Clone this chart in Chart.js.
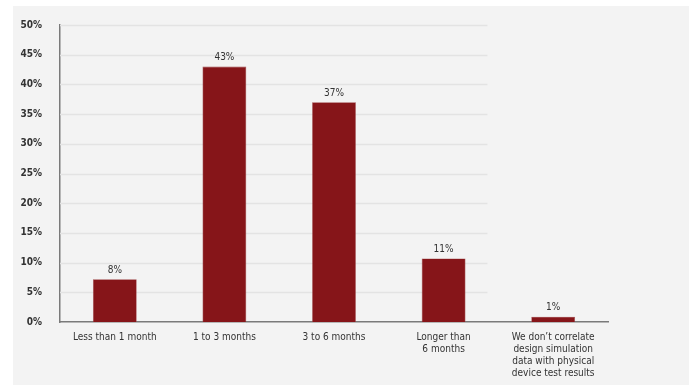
<!DOCTYPE html>
<html>
<head>
<meta charset="utf-8">
<script src="https://cdn.jsdelivr.net/npm/chart.js@4"></script>
<style>
  html, body { margin: 0; padding: 0; background: #fff; }
  #panel { position: absolute; left: 13px; top: 6px; width: 676px; height: 379px; background: #f3f3f3; }
  #myChart { display: block; }
</style>
</head>
<body>
<div id="panel"><canvas id="myChart" width="676" height="379"></canvas></div>
<script>
// categories (multi-line labels)
var categories = [
    ['Less than 1 month'],
    ['1 to 3 months'],
    ['3 to 6 months'],
    ['Longer than', '6 months'],
    ['We don\u2019t correlate', 'design simulation', 'data with physical', 'device test results']
];
// bar heights as drawn
var values = [7.2, 43, 37, 10.7, 0.9];
// printed labels over bars
var valueLabels = ['8%', '43%', '37%', '11%', '1%'];
// y ticks
var yTicks = [0, 5, 10, 15, 20, 25, 30, 35, 40, 45, 50];

var fontFamily = '"DejaVu Sans Condensed", "Liberation Sans Narrow", "Liberation Sans", Arial, sans-serif';
var textColor = '#333333';

// short gridlines like the original
var gridPlugin = {
    id: 'shortGrid',
    beforeDatasetsDraw: function(chart) {
        var ctx = chart.ctx, y = chart.scales.y, x = chart.scales.x;
        var end = x.getPixelForValue(3.4);
        ctx.save();
        ctx.strokeStyle = '#e3e3e3';
        ctx.lineWidth = 1.5;
        yTicks.forEach(function(t) {
            if (t === 0) return;
            var py = Math.round(y.getPixelForValue(t)) + 0.5;
            ctx.beginPath();
            ctx.moveTo(chart.chartArea.left, py);
            ctx.lineTo(end, py);
            ctx.stroke();
        });
        ctx.restore();
    }
};

// value labels above bars
var labelPlugin = {
    id: 'valueLabels',
    afterDatasetsDraw: function(chart) {
        var ctx = chart.ctx;
        var meta = chart.getDatasetMeta(0);
        ctx.save();
        ctx.font = '10px ' + fontFamily;
        ctx.fillStyle = textColor;
        ctx.textAlign = 'center';
        ctx.textBaseline = 'bottom';
        meta.data.forEach(function(bar, i) {
            ctx.fillText(valueLabels[i], bar.x, bar.y - 4);
        });
        ctx.restore();
    }
};

var ctx = document.getElementById('myChart').getContext('2d');
window.myBar = new Chart(ctx, {
    type: 'bar',
    data: {
        labels: categories,
        datasets: [{
            data: values,
            backgroundColor: '#861519',
            borderColor: '#a0474a',
            borderWidth: 0.6,
            categoryPercentage: 1,
            barPercentage: 0.4
        }]
    },
    plugins: [gridPlugin, labelPlugin],
    options: {
        responsive: false,
        animation: false,
        layout: { padding: { top: 19, right: 81, left: 0, bottom: 0 } },
        plugins: {
            legend: { display: false },
            tooltip: { enabled: false }
        },
        scales: {
            x: {
                grid: { display: false },
                border: { display: true, color: '#7a7a7a', width: 1.5 },
                ticks: {
                    color: textColor,
                    font: { family: fontFamily, size: 10, lineHeight: 1.2 },
                    padding: 1,
                    maxRotation: 0,
                    autoSkip: false
                },
                afterFit: function(s) { s.height = 63; }
            },
            y: {
                min: 0,
                max: 50,
                grid: { display: false },
                border: { display: true, color: '#7a7a7a', width: 1.5 },
                ticks: {
                    stepSize: 5,
                    color: textColor,
                    font: { family: fontFamily, size: 10, weight: 'bold' },
                    padding: 10,
                    callback: function(v) { return v + '%'; }
                },
                afterFit: function(s) { s.width = 47; }
            }
        }
    }
});
</script>
</body>
</html>
